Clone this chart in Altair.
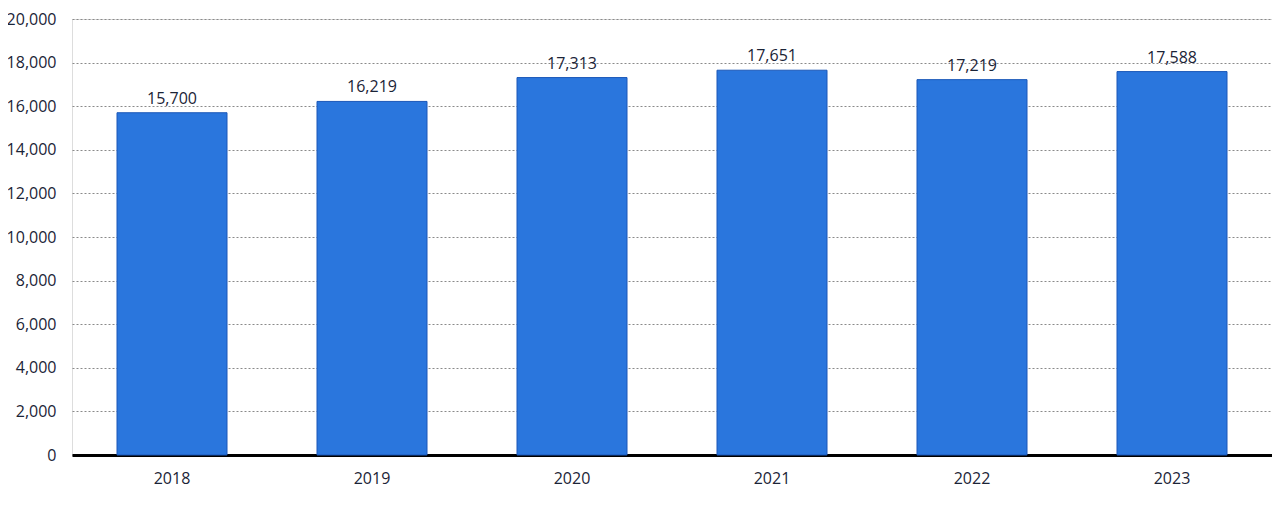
import pandas as pd
import altair as alt

years = ["2018", "2019", "2020", "2021", "2022", "2023"]
values = [15700, 16219, 17313, 17651, 17219, 17588]

df = pd.DataFrame({"year": years, "value": values})

font = "Open Sans"
text_color = "#1b2437"

x = alt.X(
    "year:N",
    title=None,
    sort=years,
    scale=alt.Scale(paddingInner=0.45, paddingOuter=0.225),
    axis=alt.Axis(
        labelAngle=0, labelFontSize=16, labelColor=text_color, labelFont=font,
        labelPadding=15, ticks=False, grid=False,
        domain=True, domainColor="black", domainWidth=3,
    ),
)
y = alt.Y(
    "value:Q",
    title=None,
    scale=alt.Scale(domain=[0, 20000], nice=False),
    axis=alt.Axis(
        values=list(range(0, 20001, 2000)), format=",d",
        labelFontSize=16, labelColor=text_color, labelFont=font, labelPadding=16,
        ticks=False, domain=False, grid=True, gridColor="#8a8a8a",
        gridDash=[2, 2], gridWidth=1,
    ),
)

bars = alt.Chart(df).mark_bar(
    color="#2a76dd", stroke="#1a57b8", strokeWidth=1
).encode(x=x, y=y)

labels = alt.Chart(df).mark_text(
    baseline="bottom", dy=-6, fontSize=16, font=font, color=text_color
).encode(x=x, y=y, text=alt.Text("value:Q", format=",d"))

chart = (bars + labels).properties(
    width=1200, height=436,
    autosize=alt.AutoSizeParams(type="none"),
    padding={"left": 64, "top": 11, "right": 0, "bottom": 34},
).configure_view(strokeWidth=0, stroke="transparent").configure(background="white")

chart.save("out.html", embed_options={"renderer": "svg", "actions": False})
